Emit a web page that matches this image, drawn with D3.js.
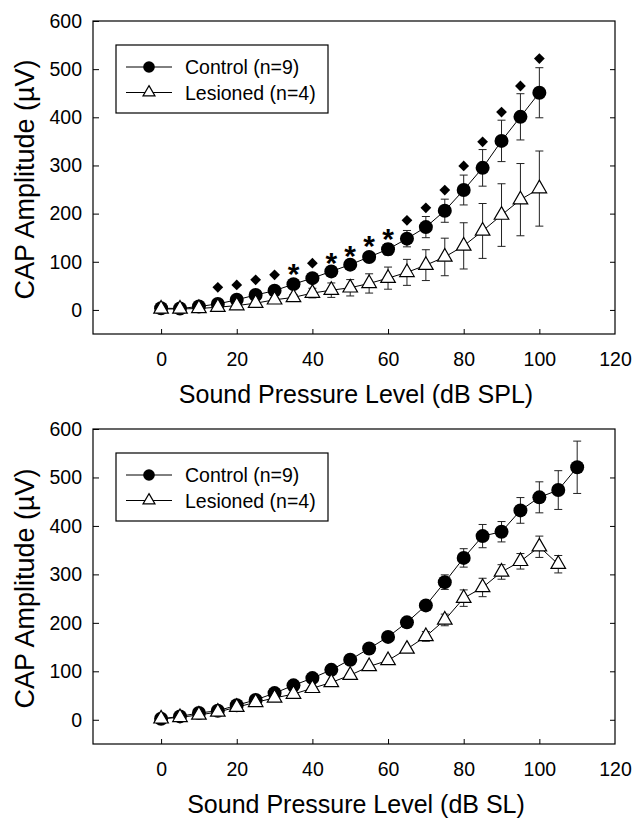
<!DOCTYPE html>
<html><head><meta charset="utf-8">
<script src="https://cdn.jsdelivr.net/npm/d3@7"></script>
<style>
body{margin:0;background:#fff}
svg{display:block}
text{font-family:"Liberation Sans",Arial,Helvetica,sans-serif;fill:#000}
</style>
</head><body>
<svg id="chart" width="635" height="820"></svg>
<script>
// ---------- DATA ----------
const xTicks = [0, 20, 40, 60, 80, 100, 120];
const yTicks = [0, 100, 200, 300, 400, 500, 600];
const seriesNames = ["Control (n=9)", "Lesioned (n=4)"];
const xTitles = ["Sound Pressure Level (dB SPL)", "Sound Pressure Level (dB SL)"];
const yTitle = "CAP Amplitude (\u00B5V)";

// Panel A: dB SPL
const splLevels      = [0,5,10,15,20,25,30,35,40,45,50,55,60,65,70,75,80,85,90,95,100];
const splControl     = [3.5,3,7,12.5,21,31,40,53.5,66,80,94,110,126,148,172,206,249,295,351,401,451];
const splControlSE   = [1,1,1,1.5,2,2.5,3,4,5,6,7,9,12,17,22,24,31,38,43,48,52];
const splLesioned    = [2,2,3,5.6,9,14,21,26,35,41,46,55,66,78,93,110,133,164,197,229,252];
const splLesionedSE  = [1,1,1,2,2,3,4,6,10,15,17,20,23,27,32,39,48,57,65,75,78];
const diamondX       = [15,20,25,30,40,65,70,75,80,85,90,95,100];
const diamondY       = [47,52,62.5,73,97,186,212,249,299,349,411,465,522];
const starX          = [35,45,50,55,60];
const starY          = [87,109,125,146,160];

// Panel B: dB SL
const slControlLevels  = [0,5,10,15,20,25,30,35,40,45,50,55,60,65,70,75,80,85,90,95,100,105,110];
const slControl        = [2,7,14,18.6,30,41,55,71,86,103,124,147,171,201,236,284,334,379,388,432,459,474,521];
const slControlSE      = [2,2,2,2,2,3,3,3,4,4,4,5,5,6,8,15,19,24,21,26.5,32,40,54];
const slLesionedLevels = [0,5,10,15,20,25,30,35,40,45,50,55,60,65,70,75,80,85,90,95,100,105];
const slLesioned       = [2,5,10,16,26,36,45,53,65,77,92,110,122.5,146,172,206,251,273,305,327,357,321];
const slLesionedSE     = [1,1,1,1,2,2,2,2,3,3,3,4,4,5,10,12,17,19,15,16,22,18];

// ---------- DRAW ----------
const svg = d3.select("#chart");
const X0 = 93, X1 = 615;
const tickFont = "19.5px";

function panel(cfg) {
  const x = d3.scaleLinear().domain([-18, 120]).range([X0, X1]);
  const y = d3.scaleLinear().domain([-50, 600]).range([cfg.bottom, cfg.top]);
  const g = svg.append("g");

  // box
  g.append("rect").attr("x", X0).attr("y", cfg.top)
    .attr("width", X1 - X0).attr("height", cfg.bottom - cfg.top)
    .attr("fill", "none").attr("stroke", "#000").attr("stroke-width", 1.2);

  // axes
  const ax = g.append("g").attr("transform", `translate(0,${cfg.bottom})`)
    .call(d3.axisBottom(x).tickValues(xTicks).tickSizeInner(-5).tickSizeOuter(0).tickPadding(18));
  const ay = g.append("g").attr("transform", `translate(${X0},0)`)
    .call(d3.axisLeft(y).tickValues(yTicks).tickSizeInner(-6).tickSizeOuter(0).tickPadding(11));
  const ar = g.append("g").attr("transform", `translate(${X1},0)`)
    .call(d3.axisRight(y).tickValues(yTicks.slice(0, 6)).tickSizeInner(-5).tickSizeOuter(0).tickFormat(""));
  [ax, ay, ar].forEach(a => {
    a.select(".domain").remove();
    a.selectAll(".tick line").attr("stroke", "#000").attr("stroke-width", 1);
    a.selectAll("text").style("font-size", tickFont).attr("fill", "#000");
  });
  ax.selectAll(".tick").filter(d => d === 120).select("line").remove();

  // titles
  g.append("text").attr("x", (X0 + X1) / 2 + 2).attr("y", cfg.bottom + 69)
    .attr("text-anchor", "middle").style("font-size", "25px").text(cfg.xTitle);
  g.append("text").attr("transform", `translate(34,${(cfg.top + cfg.bottom) / 2 + 2}) rotate(-90)`)
    .attr("text-anchor", "middle").style("font-size", "27px").text(yTitle);

  const sets = [
    {lv: cfg.cLv, v: cfg.c, se: cfg.cSE},
    {lv: cfg.lLv, v: cfg.l, se: cfg.lSE}
  ];

  // error bars
  sets.forEach(s => {
    const eb = g.append("g").attr("stroke", "#222").attr("stroke-width", 1).attr("fill", "none");
    s.lv.forEach((lv, i) => {
      const cx = x(lv), yl = y(s.v[i] - s.se[i]), yh = y(s.v[i] + s.se[i]);
      eb.append("line").attr("x1", cx).attr("x2", cx).attr("y1", yl).attr("y2", yh);
      eb.append("line").attr("x1", cx - 4).attr("x2", cx + 4).attr("y1", yl).attr("y2", yl);
      eb.append("line").attr("x1", cx - 4).attr("x2", cx + 4).attr("y1", yh).attr("y2", yh);
    });
  });

  // lines
  const line = d3.line().x(d => x(d[0])).y(d => y(d[1]));
  sets.forEach(s => {
    g.append("path").datum(s.lv.map((lv, i) => [lv, s.v[i]]))
      .attr("d", line).attr("fill", "none").attr("stroke", "#000").attr("stroke-width", 1);
  });

  // control circles
  g.append("g").selectAll("circle").data(cfg.cLv).join("circle")
    .attr("cx", d => x(d)).attr("cy", (d, i) => y(cfg.c[i])).attr("r", 7)
    .attr("fill", "#000");
  // lesioned triangles
  const tri = d3.symbol().type(d3.symbolTriangle).size(92);
  g.append("g").selectAll("path").data(cfg.lLv).join("path")
    .attr("d", tri)
    .attr("transform", (d, i) => `translate(${x(d)},${y(cfg.l[i])})`)
    .attr("fill", "#fff").attr("stroke", "#000").attr("stroke-width", 1.2);

  // significance markers
  if (cfg.dX) {
    const dia = d3.symbol().type(d3.symbolSquare).size(58);
    g.append("g").selectAll("path").data(cfg.dX).join("path")
      .attr("d", dia)
      .attr("transform", (d, i) => `translate(${x(d)},${y(cfg.dY[i])}) rotate(45)`)
      .attr("fill", "#000");
    g.append("g").selectAll("text").data(cfg.sX).join("text")
      .attr("x", d => x(d)).attr("y", (d, i) => y(cfg.sY[i]) + 16)
      .attr("text-anchor", "middle").style("font-size", "30px").style("font-weight", "bold")
      .text("*");
  }

  // legend
  const ly = cfg.top + 24;
  const lg = g.append("g");
  lg.append("rect").attr("x", 116).attr("y", ly).attr("width", 212).attr("height", 68)
    .attr("fill", "#fff").attr("stroke", "#000").attr("stroke-width", 1.2);
  const rows = [ly + 22, ly + 47.5];
  rows.forEach((ry, i) => {
    lg.append("line").attr("x1", 126).attr("x2", 172).attr("y1", ry).attr("y2", ry)
      .attr("stroke", "#000").attr("stroke-width", 1);
    if (i === 0) {
      lg.append("circle").attr("cx", 149).attr("cy", ry).attr("r", 5.8).attr("fill", "#000");
    } else {
      lg.append("path").attr("d", d3.symbol().type(d3.symbolTriangle).size(62))
        .attr("transform", `translate(149,${ry})`)
        .attr("fill", "#fff").attr("stroke", "#000").attr("stroke-width", 1.2);
    }
    lg.append("text").attr("x", 185).attr("y", ry + 7).style("font-size", "19.5px").text(seriesNames[i]);
  });
}

panel({top: 21, bottom: 334, xTitle: xTitles[0],
  cLv: splLevels, c: splControl, cSE: splControlSE,
  lLv: splLevels, l: splLesioned, lSE: splLesionedSE,
  dX: diamondX, dY: diamondY, sX: starX, sY: starY});

panel({top: 429, bottom: 744, xTitle: xTitles[1],
  cLv: slControlLevels, c: slControl, cSE: slControlSE,
  lLv: slLesionedLevels, l: slLesioned, lSE: slLesionedSE});
</script>
</body></html>
